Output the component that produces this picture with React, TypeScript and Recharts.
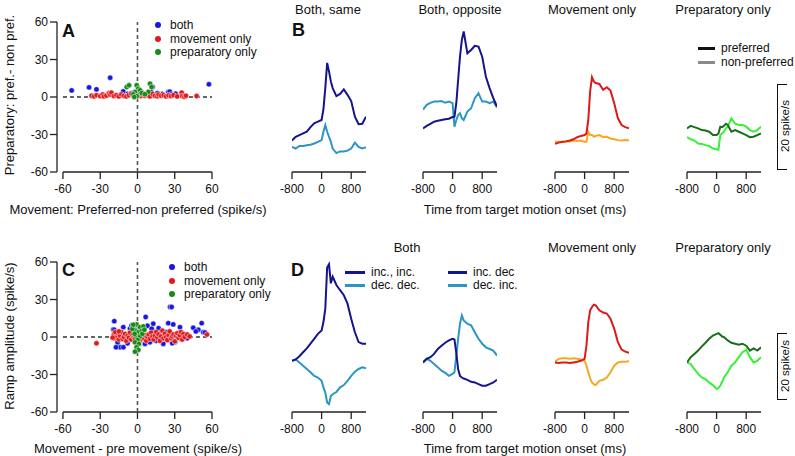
import { Line, LineChart, ReferenceLine, Scatter, ScatterChart, XAxis, YAxis } from 'recharts'

const FONT = '"Liberation Sans", Arial, Helvetica, sans-serif'

// time base for the averaged traces (ms from target motion onset)
const T = [-800, -700, -600, -500, -400, -300, -200, -100, 0, 50, 100, 150, 200, 250, 300, 400, 500, 600, 700, 800, 900, 1000, 1100, 1200]
const TIME_TICKS = [-800, 0, 800]
const SCATTER_TICKS = [-60, -30, 0, 30, 60]

// B: preferred vs non-preferred direction (spike/s, arbitrary baseline)
const bSamePref = [7.5, 8.4, 8.8, 9.2, 9.6, 10.7, 11.6, 12.0, 12.4, 15.0, 20.0, 26.0, 24.0, 21.6, 20.0, 18.1, 18.6, 19.7, 18.4, 16.9, 13.2, 11.4, 11.5, 13.2]
const bSameNon = [6.0, 5.6, 6.2, 6.2, 6.4, 6.5, 6.8, 7.2, 7.6, 9.6, 11.2, 9.6, 8.4, 7.2, 5.6, 4.5, 4.9, 4.9, 5.1, 5.6, 7.0, 6.0, 5.6, 5.9]
const bOppPref = [10.4, 11.0, 11.5, 12.0, 12.2, 12.4, 12.6, 12.7, 13.1, 13.2, 16.4, 22.0, 27.5, 31.5, 33.5, 28.3, 29.1, 30.1, 29.9, 27.5, 22.7, 20.0, 17.6, 15.6]
const bOppNon = [14.9, 16.0, 16.5, 16.8, 16.8, 16.9, 16.5, 16.8, 16.4, 10.8, 12.4, 13.6, 14.0, 12.8, 12.4, 14.4, 15.2, 17.6, 18.8, 16.8, 16.8, 16.4, 16.8, 15.4]
const bMovPref = [6.7, 7.0, 7.2, 7.3, 7.5, 7.8, 8.3, 8.6, 8.8, 9.2, 12.4, 19.2, 22.6, 21.6, 21.2, 21.0, 19.6, 20.2, 19.4, 16.4, 12.8, 11.2, 10.7, 10.4]
const bMovNon = [7.2, 7.2, 7.1, 7.3, 7.3, 7.5, 7.4, 7.5, 7.2, 7.2, 9.6, 8.8, 8.8, 8.4, 8.6, 8.8, 8.3, 8.4, 8.0, 7.8, 7.6, 7.5, 7.6, 7.5]
const bPrepPref = [10.4, 11.0, 10.7, 10.4, 10.0, 9.9, 9.6, 8.8, 8.8, 9.2, 10.8, 10.7, 11.0, 11.5, 11.2, 9.6, 10.0, 9.6, 9.2, 8.8, 8.3, 8.4, 8.8, 9.2]
const bPrepNon = [8.3, 7.8, 7.5, 6.8, 6.7, 6.4, 6.2, 5.6, 5.4, 5.3, 8.8, 9.2, 9.6, 10.4, 10.8, 12.8, 11.5, 11.2, 11.2, 10.8, 10.0, 9.6, 10.0, 10.8]

// D: ramp direction groups
const dIncInc = [15.6, 16.0, 17.0, 18.2, 19.4, 20.8, 22.3, 23.8, 24.8, 27.4, 31.5, 44.0, 45.0, 39.2, 41.2, 38.7, 37.1, 35.6, 33.0, 28.4, 24.3, 21.3, 20.8, 20.8]
const dDecDec = [15.6, 16.0, 15.1, 14.1, 13.1, 12.1, 11.0, 10.5, 9.5, 7.5, 5.9, 2.9, 2.4, 4.9, 5.4, 6.1, 7.5, 8.2, 9.5, 11.0, 12.3, 13.1, 13.6, 13.3]
const dIncDec = [15.1, 16.2, 16.7, 17.7, 19.2, 20.2, 21.1, 21.8, 22.3, 22.1, 18.0, 13.0, 11.0, 10.5, 10.2, 9.8, 9.2, 9.0, 8.5, 8.0, 8.0, 8.5, 9.0, 9.8]
const dDecInc = [15.1, 16.2, 15.6, 14.6, 13.6, 12.6, 11.9, 11.0, 11.6, 12.1, 17.2, 22.3, 26.9, 29.4, 27.9, 26.9, 26.4, 24.3, 22.3, 20.8, 19.7, 19.2, 18.7, 17.2]
const dMovInc = [15.1, 14.9, 15.1, 15.1, 14.9, 15.1, 15.3, 15.6, 16.2, 20.2, 27.4, 31.0, 32.0, 32.7, 32.5, 31.0, 30.3, 30.0, 28.4, 25.4, 21.3, 19.0, 18.4, 18.0]
const dMovDec = [15.3, 16.2, 16.4, 16.4, 16.2, 16.4, 16.2, 16.0, 15.6, 14.1, 12.1, 10.2, 9.0, 8.4, 8.2, 9.5, 9.8, 10.5, 12.1, 14.1, 15.1, 15.3, 15.3, 15.5]
const dPrepInc = [15.1, 16.7, 17.7, 18.7, 20.0, 21.1, 22.3, 23.3, 23.8, 24.0, 23.5, 23.0, 22.8, 22.3, 21.8, 21.1, 20.8, 20.5, 20.8, 20.2, 18.7, 19.4, 18.7, 19.7]
const dPrepDec = [15.1, 14.6, 13.1, 11.6, 10.5, 10.0, 9.0, 8.2, 7.0, 7.3, 8.0, 9.2, 10.5, 11.3, 12.1, 14.1, 15.1, 16.7, 18.2, 19.0, 16.7, 15.1, 15.6, 16.7]

// A: movement vs preparatory tuning (x, y)
const aBoth: [number, number][] = [[-53, 5.3], [-39, 7.7], [-33, 6.1], [-22, 15.4], [-11.5, 4.5], [-8, 2.5], [-5, 3], [3, 4], [11, 4], [12.2, 8], [16, 3], [20, 2.5], [24.8, 4], [26, 4.3], [27, 2], [30.7, 2.7], [57.5, 10.2]]
const aMovement: [number, number][] = [[-37, 1], [-35, 0.5], [-33, 1.5], [-30, 0.8], [-28, 2], [-27, 0.5], [-25, 1.2], [-23, 3], [-22, 2], [-21, 3.5], [-19, 0.8], [-17, 1.5], [-15, 0.5], [-13, 2], [-11, 1], [-9, 0.5], [-7, 1.5], [-5, 2.5], [-3, 1], [-1, 0.5], [1, 1.5], [3, 0.8], [4, 2], [6, 1], [8, 1.8], [10, 0.5], [12, 2.5], [14, 1], [16, 0.6], [17, 2], [19, 1], [21, 1.5], [23, 0.5], [25, 1.2], [27, 0.8], [29, 1.5], [32, 0.5], [35.6, 3.5], [36, 0.8], [37.7, 0.2], [39, 1], [47.6, 0.8]]
const aPreparatory: [number, number][] = [[-8.7, 8], [-6.8, 9.4], [-0.6, 9.4], [0.6, 6.7], [2, 5.4], [-2, 4], [-3.4, 2.2], [3.4, 3.2], [10.1, 10.7], [11.4, 8], [8.7, 4], [-0.6, 0.6], [-2.6, 0], [6, 2.2]]

// C: movement - pre movement vs ramp amplitude (x, y)
const cBoth: [number, number][] = [[26.2, 24], [27.5, 24], [-18.7, 12.7], [-19.5, 6], [6.6, 16], [12.7, 10.6], [24.8, 11.1], [28.8, 10.1], [34.2, 7.9], [44.9, 7.4], [51.7, 11.1], [49, 5.8], [53, 3.9], [47, 4.5], [-18.7, 5.8], [-14, -8.2], [-11.4, -8.2], [-16, -4.3], [-11.4, 7.9], [-6, 6.6], [-4.7, 9.2], [11.4, 6.6], [10, -4.2], [14, -1.5], [20.8, -5.5], [30.2, -4.2], [35.6, -1.5], [3.4, 5.2], [19.5, 5.2], [6, -5.5], [23.6, 3.9], [-17.3, -8.2], [-8, -5], [15, -3], [28, -5], [54.3, 3.6], [40, -1], [8, 9], [-2, 6], [17, 7]]
const cMovement: [number, number][] = [[-19, 2], [-18, -1], [-17, 0.5], [-16, 3], [-15, -2], [-14, 1], [-13, 4], [-12, -1.5], [-11, 0], [-10, 2.5], [-9, -3], [-8, 1], [-7, -0.5], [-6, 3.5], [-5, -2], [-4, 1.5], [-3, 0], [-2, -1], [1, 2], [2, -2.5], [3, 0.5], [4, 3], [5, -1], [6, 1.5], [7, -3], [8, 0], [9, 2], [10, -1.5], [11, 3.5], [12, 0.5], [13, -2], [14, 1], [15, 4], [16, -0.5], [17, 2], [18, -3], [19, 0.5], [20, 5], [21, -1], [22, 2.5], [23, 0], [24, -2.5], [25, 1.5], [26, 4.5], [27, -1], [28, 0.5], [29, 2], [30, -3.5], [31, 1], [32, 3], [33, -0.5], [34, 1.5], [35, 4], [36, -2], [37, 2.5], [38, 0], [40, 2], [42, 0.5], [56, 2], [-33, -5], [-20, -0.5], [-18, 4], [-15, 4.5], [0, -4]]
const cPreparatory: [number, number][] = [[-3.4, 9.3], [-0.7, 10.1], [2, 7.9], [4.7, 8.5], [-2, 5.2], [0.7, 3.9], [3.4, 4.7], [-1.5, 1.2], [2, 0.4], [0.1, -2.3], [-2, -4.2], [1.2, -5.5], [-0.7, -8.2], [0.7, -10.3], [-2.3, 2.5], [3.9, 2.5], [-4.2, 6.5], [5.6, 5.8], [-2, -11.7], [-3.4, 9.8]]

const NAVY = '#14148c'
const TEAL = '#2b96c4'
const RED = '#dc1a1a'
const ORANGE = '#f7a823'
const DKGREEN = '#196e19'
const LTGREEN = '#3aee3a'
const DOT_BLUE = '#1717e0'
const DOT_RED = '#e31a1c'
const DOT_GREEN = '#188a18'
const AXIS = { stroke: '#222', strokeWidth: 1.3 }
const TICK = { fontSize: 12, fill: '#111' }

function Txt({ x, y, children, size = 13, anchor = 'middle', rotate = 0, weight = 400 }: any) {
  const tx = anchor === 'middle' ? '-50%' : anchor === 'end' ? '-100%' : '0'
  return (
    <div
      style={{
        position: 'absolute',
        left: x,
        top: y,
        transform: `translate(${tx}, -50%) rotate(${rotate}deg)`,
        fontSize: size,
        fontWeight: weight,
        whiteSpace: 'nowrap',
        lineHeight: 1,
        color: '#111'
      }}
    >
      {children}
    </div>
  )
}

const dot = (fill: string) => (p: any) => (
  <circle cx={p.cx} cy={p.cy} r={2.7} fill={fill} stroke="#fff" strokeWidth={0.5} />
)

const toPoints = (pts: [number, number][]) => pts.map(([x, y]) => ({ x, y }))

function ScatterPanel({ top, both, movement, preparatory }: any) {
  return (
    <div style={{ position: 'absolute', left: 0, top }}>
      <ScatterChart width={230} height={202} margin={{ top: 22, right: 18, left: 0, bottom: 0 }}>
        <XAxis
          type="number"
          dataKey="x"
          domain={[-64.8, 60]}
          allowDataOverflow
          ticks={SCATTER_TICKS}
          axisLine={false}
          tickLine={AXIS}
          tickSize={7}
          tickMargin={5}
          height={30}
          tick={TICK}
        />
        <YAxis
          type="number"
          dataKey="y"
          domain={[-60, 60]}
          allowDataOverflow
          ticks={SCATTER_TICKS}
          width={57}
          axisLine={AXIS}
          tickLine={AXIS}
          tickSize={7}
          tick={TICK}
        />
        <ReferenceLine segment={[{ x: -60, y: -60 }, { x: 60, y: -60 }]} stroke="#222" strokeWidth={1.3} />
        <ReferenceLine segment={[{ x: -60, y: 0 }, { x: 60, y: 0 }]} stroke="#333" strokeWidth={1.3} strokeDasharray="4 3" />
        <ReferenceLine x={0} stroke="#555" strokeWidth={1.6} strokeDasharray="4 3" />
        <Scatter data={toPoints(both)} shape={dot(DOT_BLUE)} isAnimationActive={false} />
        <Scatter data={toPoints(movement)} shape={dot(DOT_RED)} isAnimationActive={false} />
        <Scatter data={toPoints(preparatory)} shape={dot(DOT_GREEN)} isAnimationActive={false} />
      </ScatterChart>
    </div>
  )
}

function TracePanel({ left, top, yMax, a, b, colorA, colorB }: any) {
  const rows = T.map((t, i) => ({ t, a: a[i], b: b[i] }))
  return (
    <div style={{ position: 'absolute', left: left - 20, top }}>
      <LineChart width={114} height={202} data={rows} margin={{ top: 21, right: 20, left: 20, bottom: 0 }}>
        <XAxis
          dataKey="t"
          type="number"
          domain={[-800, 1200]}
          allowDataOverflow
          ticks={TIME_TICKS}
          axisLine={AXIS}
          tickLine={AXIS}
          tickSize={7}
          tickMargin={5}
          height={30}
          tick={TICK}
        />
        <YAxis hide domain={[0, yMax]} allowDataOverflow />
        <Line type="linear" dataKey="b" stroke={colorB} strokeWidth={2} dot={false} isAnimationActive={false} />
        <Line type="linear" dataKey="a" stroke={colorA} strokeWidth={2} dot={false} isAnimationActive={false} />
      </LineChart>
    </div>
  )
}

function DotLegend({ x, y }: any) {
  const items = [
    ['both', DOT_BLUE],
    ['movement only', DOT_RED],
    ['preparatory only', DOT_GREEN]
  ]
  return (
    <>
      {items.map(([label, color], i) => (
        <div key={label}>
          <div
            style={{
              position: 'absolute',
              left: x - 3,
              top: y + i * 13.5 - 3,
              width: 6,
              height: 6,
              borderRadius: 3,
              background: color
            }}
          />
          <Txt x={x + 12} y={y + i * 13.5} size={12} anchor="start">
            {label}
          </Txt>
        </div>
      ))}
    </>
  )
}

function LineKey({ x, y, w, color, label }: any) {
  return (
    <>
      <div style={{ position: 'absolute', left: x, top: y - 1.5, width: w, height: 3, background: color }} />
      <Txt x={x + w + 6} y={y} size={12} anchor="start">
        {label}
      </Txt>
    </>
  )
}

function ScaleBar({ top, height }: any) {
  return (
    <>
      <div
        style={{
          position: 'absolute',
          left: 777,
          top,
          width: 9,
          height,
          borderLeft: '1.4px solid #111',
          borderTop: '1.4px solid #111',
          borderBottom: '1.4px solid #111'
        }}
      />
      <Txt x={786} y={top + height / 2} size={11.5} rotate={-90}>
        20 spike/s
      </Txt>
    </>
  )
}

export default function App() {
  return (
    <div
      style={{
        position: 'absolute',
        left: 0,
        top: 0,
        width: 795,
        height: 456,
        background: '#fff',
        fontFamily: FONT,
        overflow: 'hidden'
      }}
    >
      <ScatterPanel top={0} both={aBoth} movement={aMovement} preparatory={aPreparatory} />
      <ScatterPanel top={240} both={cBoth} movement={cMovement} preparatory={cPreparatory} />

      <TracePanel left={292} top={0} yMax={36} a={bSamePref} b={bSameNon} colorA={NAVY} colorB={TEAL} />
      <TracePanel left={423} top={0} yMax={36} a={bOppPref} b={bOppNon} colorA={NAVY} colorB={TEAL} />
      <TracePanel left={555} top={0} yMax={36} a={bMovPref} b={bMovNon} colorA={RED} colorB={ORANGE} />
      <TracePanel left={687} top={0} yMax={36} a={bPrepPref} b={bPrepNon} colorA={DKGREEN} colorB={LTGREEN} />

      <TracePanel left={292} top={240} yMax={46} a={dIncInc} b={dDecDec} colorA={NAVY} colorB={TEAL} />
      <TracePanel left={423} top={240} yMax={46} a={dIncDec} b={dDecInc} colorA={NAVY} colorB={TEAL} />
      <TracePanel left={555} top={240} yMax={46} a={dMovInc} b={dMovDec} colorA={RED} colorB={ORANGE} />
      <TracePanel left={687} top={240} yMax={46} a={dPrepInc} b={dPrepDec} colorA={DKGREEN} colorB={LTGREEN} />

      <Txt x={62} y={31} size={18} weight={700} anchor="start">A</Txt>
      <Txt x={292} y={30} size={18} weight={700} anchor="start">B</Txt>
      <Txt x={62} y={270} size={18} weight={700} anchor="start">C</Txt>
      <Txt x={291} y={270} size={18} weight={700} anchor="start">D</Txt>

      <DotLegend x={158} y={25} />
      <DotLegend x={172} y={267} />

      <Txt x={9} y={95} rotate={-90}>Preparatory: pref.- non pref.</Txt>
      <Txt x={9} y={336} rotate={-90}>Ramp amplitude (spike/s)</Txt>
      <Txt x={138} y={209}>Movement: Preferred-non preferred (spike/s)</Txt>
      <Txt x={138} y={448}>Movement - pre movement (spike/s)</Txt>

      <Txt x={328} y={9}>Both, same</Txt>
      <Txt x={460} y={9}>Both, opposite</Txt>
      <Txt x={592} y={9}>Movement only</Txt>
      <Txt x={723} y={9}>Preparatory only</Txt>
      <Txt x={407} y={247}>Both</Txt>
      <Txt x={592} y={247}>Movement only</Txt>
      <Txt x={723} y={247}>Preparatory only</Txt>

      <Txt x={525} y={209}>Time from target motion onset (ms)</Txt>
      <Txt x={525} y={448}>Time from target motion onset (ms)</Txt>

      <LineKey x={698} y={48} w={17} color="#111" label="preferred" />
      <LineKey x={698} y={62} w={17} color="#8a8a8a" label="non-preferred" />

      <LineKey x={345} y={272} w={20} color={NAVY} label="inc., inc." />
      <LineKey x={345} y={285} w={20} color={TEAL} label="dec. dec." />
      <LineKey x={448} y={272} w={19} color={NAVY} label="inc. dec" />
      <LineKey x={448} y={285} w={19} color={TEAL} label="dec. inc." />

      <ScaleBar top={84} height={84} />
      <ScaleBar top={333} height={65} />
    </div>
  )
}
